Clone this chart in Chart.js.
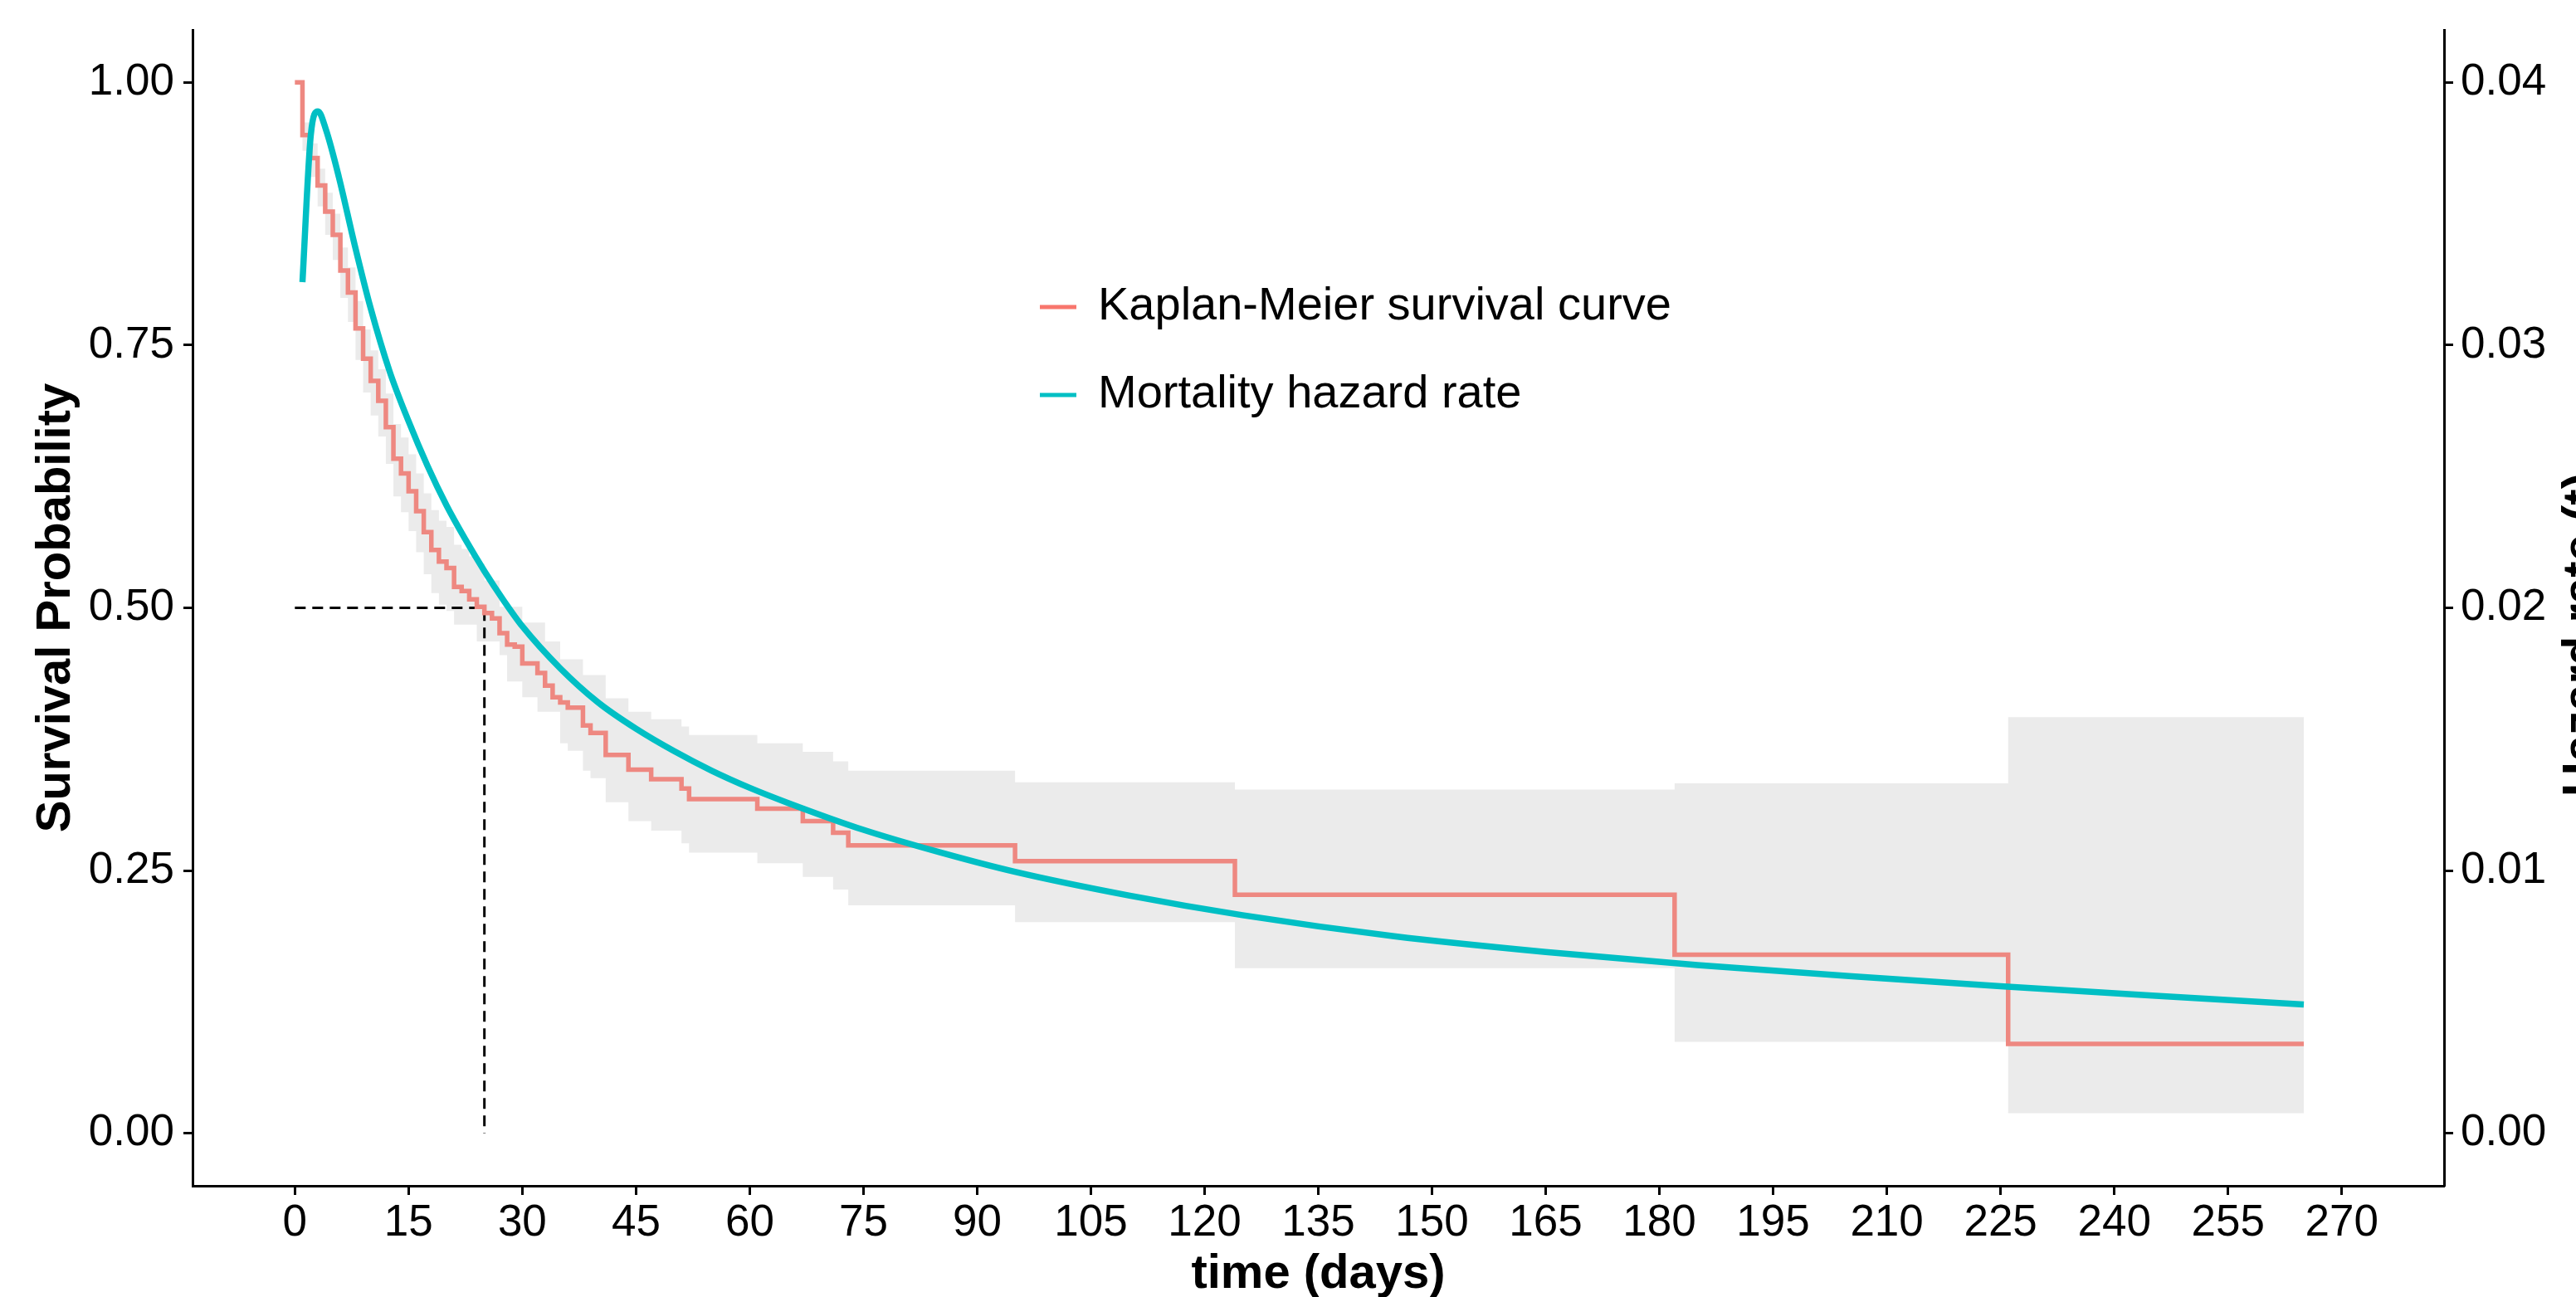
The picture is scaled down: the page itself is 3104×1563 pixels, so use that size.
<!DOCTYPE html>
<html>
<head>
<meta charset="utf-8">
<script src="https://cdn.jsdelivr.net/npm/chart.js@4.4.1/dist/chart.umd.min.js"></script>
<style>
  html, body { margin: 0; padding: 0; background: #fff; }
  canvas { display: block; }
</style>
</head>
<body>
<canvas id="kmChart" width="3104" height="1563"></canvas>
<script>
// Kaplan-Meier estimate (value holds from each time onwards)
const kmTime = [0, 1, 2, 3, 4, 5, 6, 7, 8, 9, 10, 11, 12, 13, 14, 15, 16, 17, 18, 19, 20,
  21, 22, 23, 24, 25, 26, 27, 28, 29, 30, 32, 33, 34, 35, 36, 38, 39, 41, 44, 47, 51, 52,
  61, 67, 71, 73, 95, 124, 182, 226, 265];
const kmSurv = [1.000, 0.950, 0.928, 0.902, 0.877, 0.855, 0.821, 0.800, 0.766, 0.737, 0.716,
  0.697, 0.672, 0.642, 0.628, 0.611, 0.592, 0.572, 0.555, 0.544, 0.538, 0.520, 0.516, 0.508,
  0.501, 0.495, 0.490, 0.476, 0.465, 0.463, 0.447, 0.438, 0.426, 0.415, 0.410, 0.405, 0.388,
  0.381, 0.360, 0.346, 0.337, 0.328, 0.318, 0.309, 0.297, 0.286, 0.274, 0.259, 0.227, 0.170,
  0.085, 0.085];
// 95% confidence band
const kmUpper = [1.000, 0.962, 0.942, 0.918, 0.895, 0.875, 0.843, 0.824, 0.792, 0.765, 0.745,
  0.727, 0.704, 0.675, 0.662, 0.646, 0.628, 0.609, 0.593, 0.583, 0.577, 0.560, 0.556, 0.549,
  0.542, 0.526, 0.526, 0.501, 0.501, 0.501, 0.486, 0.486, 0.468, 0.468, 0.451, 0.451, 0.436,
  0.436, 0.414, 0.401, 0.394, 0.387, 0.379, 0.371, 0.363, 0.354, 0.345, 0.334, 0.327, 0.333,
  0.396, 0.396];
const kmLower = [1.000, 0.935, 0.910, 0.882, 0.855, 0.831, 0.795, 0.772, 0.736, 0.705, 0.683,
  0.663, 0.637, 0.606, 0.591, 0.573, 0.553, 0.532, 0.514, 0.503, 0.497, 0.484, 0.484, 0.484,
  0.468, 0.468, 0.468, 0.455, 0.430, 0.430, 0.415, 0.401, 0.401, 0.401, 0.371, 0.364, 0.345,
  0.338, 0.315, 0.297, 0.288, 0.276, 0.267, 0.257, 0.244, 0.232, 0.217, 0.201, 0.157, 0.087,
  0.019, 0.019];

// smoothed mortality hazard (right axis)
const hazTime = [1.0, 2.1, 3.05, 4.1, 5.8, 7.9, 10, 12.5, 15, 17.5, 20, 22.5, 25, 27.5, 30,
  35, 40, 45, 50, 55, 60, 65, 75, 85, 95, 110, 125, 145, 165, 185, 205, 225, 245, 265];
const hazRate = [0.0324, 0.0380, 0.0389, 0.0382, 0.0364, 0.0338, 0.0314, 0.0290, 0.0271,
  0.0254, 0.0239, 0.0226, 0.0214, 0.0203, 0.0193, 0.0177, 0.0164, 0.0154, 0.01455, 0.0138,
  0.01315, 0.01258, 0.01155, 0.0107, 0.00995, 0.00905, 0.0083, 0.0075, 0.0069, 0.0064,
  0.00598, 0.0056, 0.00524, 0.0049];

// median survival guide
const medianTime = 25;
const medianX = [0, medianTime, medianTime];
const medianY = [0.5, 0.5, 0];

const timeTicks = [0, 15, 30, 45, 60, 75, 90, 105, 120, 135, 150, 165, 180, 195, 210, 225, 240, 255, 270];
const survTicks = [0, 0.25, 0.5, 0.75, 1];
const hazTicks = [0, 0.01, 0.02, 0.03, 0.04];

const seriesNames = ["Kaplan-Meier survival curve", "Mortality hazard rate"];
const kmColor = "#F8766D";
const hazColor = "#00BFC4";

const FAMILY = "'Liberation Sans', Arial, sans-serif";
const tickFont = { family: FAMILY, size: 53 };
const titleFont = { family: FAMILY, size: 58, weight: "bold", lineHeight: 1 };

const xy = (xs, ys) => xs.map((x, i) => ({ x: x, y: ys[i] }));

const axisGrid = { display: true, drawOnChartArea: false, drawTicks: true, tickLength: 11, tickWidth: 3, tickColor: "#000" };
const axisBorder = { display: true, color: "#000", width: 3 };

const overlayText = {
    id: "overlayText",
    afterDraw(chart) {
        const ctx = chart.ctx;
        ctx.save();
        // legend drawn inside the panel
        const rows = [
            { label: seriesNames[0], color: kmColor, y: 370 },
            { label: seriesNames[1], color: hazColor, y: 476 }
        ];
        ctx.font = "56px " + FAMILY;
        ctx.textBaseline = "middle";
        ctx.textAlign = "left";
        rows.forEach(r => {
            ctx.strokeStyle = r.color;
            ctx.lineWidth = 5;
            ctx.beginPath();
            ctx.moveTo(1253, r.y);
            ctx.lineTo(1297, r.y);
            ctx.stroke();
            ctx.fillStyle = "#000";
            ctx.fillText(r.label, 1323, r.y);
        });
        // right axis title, cut off by the edge like the original
        ctx.translate(3128, 765);
        ctx.rotate(-Math.PI / 2);
        ctx.font = "bold 58px " + FAMILY;
        ctx.textAlign = "center";
        ctx.textBaseline = "alphabetic";
        ctx.fillText("Hazard rate (t)", 0, 0);
        ctx.restore();
    }
};

new Chart(document.getElementById("kmChart"), {
    type: "line",
    data: {
        datasets: [
            { data: xy(kmTime, kmLower), stepped: true, borderWidth: 0, borderColor: "rgba(0,0,0,0)",
              pointRadius: 0, fill: false, order: 5 },
            { data: xy(kmTime, kmUpper), stepped: true, borderWidth: 0, borderColor: "rgba(0,0,0,0)",
              pointRadius: 0, fill: "-1", backgroundColor: "#EBEBEB", order: 4 },
            { data: xy(medianX, medianY), borderColor: "#000", borderWidth: 3, borderDash: [13, 8],
              pointRadius: 0, fill: false, order: 3 },
            { label: seriesNames[0], data: xy(kmTime, kmSurv), stepped: true, borderColor: "#EE8881",
              borderWidth: 5.5, pointRadius: 0, fill: false, order: 2 },
            { label: seriesNames[1], data: xy(hazTime, hazRate), yAxisID: "y2", borderColor: hazColor,
              borderWidth: 7.5, pointRadius: 0, fill: false, cubicInterpolationMode: "monotone", order: 1 }
        ]
    },
    options: {
        responsive: false,
        animation: false,
        devicePixelRatio: 1,
        layout: { padding: { top: 36, left: 0, right: 0, bottom: 0 } },
        plugins: { legend: { display: false }, tooltip: { enabled: false } },
        scales: {
            x: {
                type: "linear", min: -13.5, max: 283.5,
                afterBuildTicks: s => { s.ticks = timeTicks.map(v => ({ value: v })); },
                afterFit: s => { s.height = 134; s.paddingLeft = 0; s.paddingRight = 0; },
                ticks: { font: tickFont, color: "#000", padding: 3, maxRotation: 0, autoSkip: false,
                         callback: v => String(v) },
                grid: axisGrid,
                border: axisBorder,
                title: { display: true, text: "time (days)", font: titleFont, color: "#000",
                         padding: { top: 0, bottom: -2 } }
            },
            y: {
                type: "linear", position: "left", min: -0.05, max: 1.05,
                afterBuildTicks: s => { s.ticks = survTicks.map(v => ({ value: v })); },
                afterFit: s => { s.width = 232; s.paddingTop = 0; s.paddingBottom = 0; },
                ticks: { font: tickFont, color: "#000", padding: 11, callback: v => v.toFixed(2) },
                grid: axisGrid,
                border: axisBorder,
                title: { display: true, text: "Survival Probability", font: titleFont, color: "#000",
                         padding: { top: 39, bottom: 0 } }
            },
            y2: {
                type: "linear", position: "right", min: -0.002, max: 0.042,
                afterBuildTicks: s => { s.ticks = hazTicks.map(v => ({ value: v })); },
                afterFit: s => { s.width = 159; s.paddingTop = 0; s.paddingBottom = 0; },
                ticks: { font: tickFont, color: "#000", padding: 9, callback: v => v.toFixed(2) },
                grid: axisGrid,
                border: axisBorder
            }
        }
    },
    plugins: [overlayText]
});
</script>
</body>
</html>
